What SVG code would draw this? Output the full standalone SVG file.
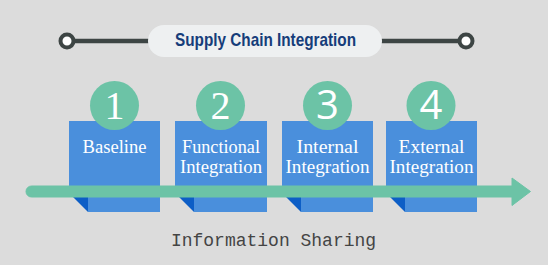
<svg xmlns="http://www.w3.org/2000/svg" width="548" height="265" viewBox="0 0 548 265">
<style>
.box{fill:#4a8fdc}
.fold{fill:#0d5ec6}
.num{fill:#6cc3a6}
.lbl{fill:#ffffff;font-family:"Liberation Serif",serif;font-size:18px;text-anchor:middle}
.ns{fill:#ffffff;font-family:"Liberation Serif",serif;font-size:40px;text-anchor:middle}
.nsans{fill:#ffffff;font-family:"Open Sans","Liberation Sans",sans-serif;font-size:40px;text-anchor:middle}
</style>
<rect width="548" height="265" fill="#dcdcdc"/>
<g id="header">
<line x1="67" y1="41" x2="466" y2="41" stroke="#3d4544" stroke-width="4.5"/>
<circle cx="67" cy="41" r="6.5" fill="#ffffff" stroke="#3d4544" stroke-width="4"/>
<circle cx="466" cy="41" r="6.5" fill="#ffffff" stroke="#3d4544" stroke-width="4"/>
<rect x="148" y="25" width="234" height="32" rx="16" fill="#eef0f1"/>
<text x="265.5" y="46" font-family="'Liberation Sans',Arial,sans-serif" font-weight="bold" font-size="18.5" fill="#163d7a" text-anchor="middle" textLength="181" lengthAdjust="spacingAndGlyphs">Supply Chain Integration</text>
</g>
<g id="step1">
<rect class="box" x="69" y="121" width="91" height="76"/>
<rect class="box" x="88" y="196" width="72" height="16"/>
<polygon class="fold" points="73,197 88,197 88,212"/>
<text class="lbl" x="114.5" y="153" textLength="64" lengthAdjust="spacingAndGlyphs">Baseline</text>
</g>
<g id="step2">
<rect class="box" x="175" y="121" width="92" height="76"/>
<rect class="box" x="194" y="196" width="73" height="16"/>
<polygon class="fold" points="179,197 194,197 194,212"/>
<text class="lbl" x="221" y="153" textLength="78" lengthAdjust="spacingAndGlyphs">Functional</text>
<text class="lbl" x="221" y="173" textLength="82" lengthAdjust="spacingAndGlyphs">Integration</text>
</g>
<g id="step3">
<rect class="box" x="282" y="121" width="91" height="76"/>
<rect class="box" x="301" y="196" width="72" height="16"/>
<polygon class="fold" points="286,197 301,197 301,212"/>
<text class="lbl" x="327.5" y="153" textLength="62" lengthAdjust="spacingAndGlyphs">Internal</text>
<text class="lbl" x="327.5" y="173" textLength="84" lengthAdjust="spacingAndGlyphs">Integration</text>
</g>
<g id="step4">
<rect class="box" x="386" y="121" width="91" height="76"/>
<rect class="box" x="405" y="196" width="72" height="16"/>
<polygon class="fold" points="390,197 405,197 405,212"/>
<text class="lbl" x="431.5" y="153" textLength="66" lengthAdjust="spacingAndGlyphs">External</text>
<text class="lbl" x="431.5" y="173" textLength="84" lengthAdjust="spacingAndGlyphs">Integration</text>
</g>
<g id="connectors">
<path d="M31.5,186 H512 V178 L530.5,191.5 L512,205.5 V197 H31.5 A5.5,5.5 0 0 1 31.5,186 Z" fill="#6cc3a6" stroke="#6cc3a6" stroke-width="1" stroke-linejoin="round"/>
</g>
<g id="badge1">
<circle class="num" cx="114.5" cy="105.5" r="24.5"/>
<text class="ns" x="114.5" y="119">1</text>
</g>
<g id="badge2">
<circle class="num" cx="220.5" cy="105.5" r="24.5"/>
<text class="ns" x="220.5" y="119">2</text>
</g>
<g id="badge3">
<circle class="num" cx="327.5" cy="105.5" r="24.5"/>
<text class="nsans" x="327.5" y="119">3</text>
</g>
<g id="badge4">
<circle class="num" cx="431" cy="105.5" r="24.5"/>
<text class="nsans" x="431" y="119">4</text>
</g>
<text x="273.5" y="246" font-family="'Liberation Mono',monospace" font-size="18" fill="#444444" text-anchor="middle">Information Sharing</text>
</svg>
